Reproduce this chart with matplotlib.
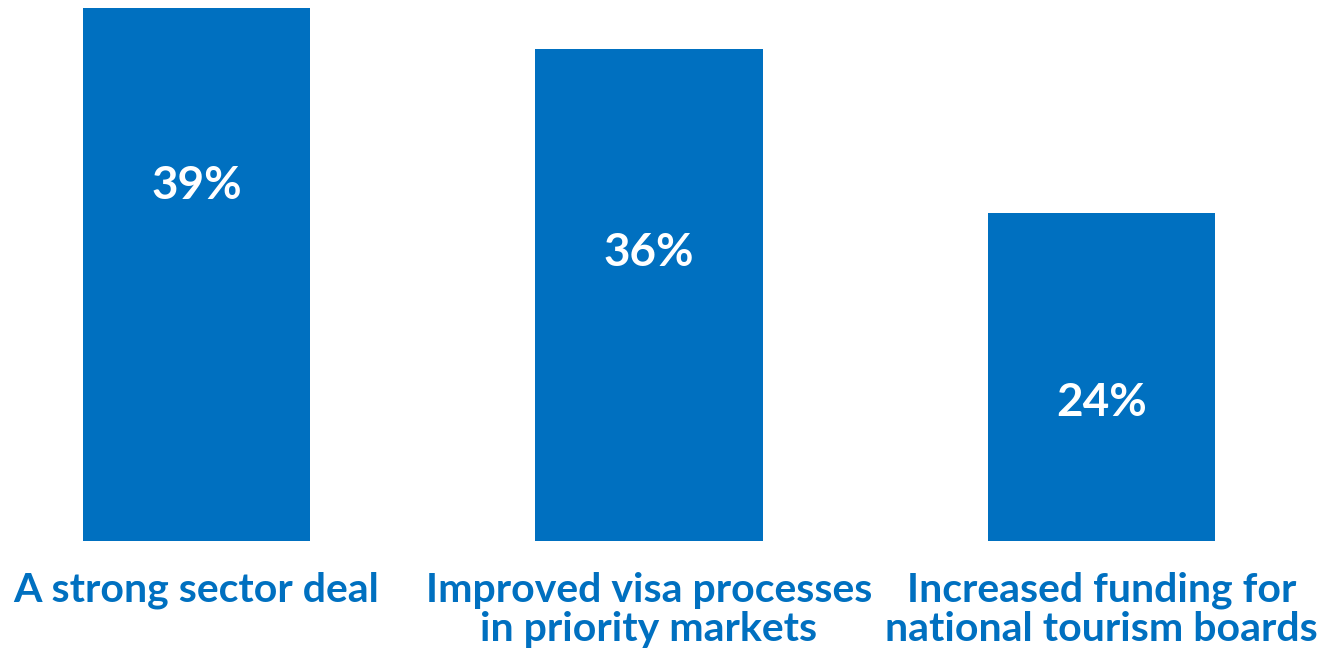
import numpy as np
import matplotlib
matplotlib.use('Agg')
import matplotlib.pyplot as plt

# survey results: share of respondents picking each priority
categories = ['A strong sector deal',
              'Improved visa processes\nin priority markets',
              'Increased funding for\nnational tourism boards']
values = [39, 36, 24]
value_labels = ['39%', '36%', '24%']
label_y = [26.0, 21.1, 10.1]  # where the % text sits inside each bar

blue = '#0070C0'

plt.rcParams['font.family'] = ['Lato', 'DejaVu Sans']

fig = plt.figure(figsize=(13.24, 6.57), dpi=100)
ax = fig.add_axes([0, 116 / 657, 1, 541 / 657])

x = np.arange(len(values))
ax.bar(x, values, width=0.502, color=blue)

for xi, yi, txt in zip(x, label_y, value_labels):
    ax.text(xi, yi, txt, color='white', fontsize=33, fontweight='bold',
            ha='center', va='center')

ax.set_xlim(-196.5 / 452.5, (1324 - 196.5) / 452.5)
ax.set_ylim(0, 541 / (533 / 39))

ax.set_xticks(x)
ax.set_xticklabels(categories, color=blue, fontsize=29.5, fontweight='bold',
                   linespacing=1.08)
ax.tick_params(axis='x', length=0, pad=22)
ax.set_yticks([])
for s in ax.spines.values():
    s.set_visible(False)

plt.savefig('out.png', dpi=100)
plt.close('all')
